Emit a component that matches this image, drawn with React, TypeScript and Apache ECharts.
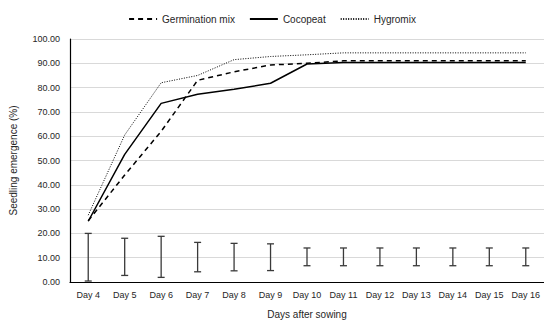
import React, { useEffect, useRef } from "react";
import * as echarts from "echarts";

const categories = ["Day 4", "Day 5", "Day 6", "Day 7", "Day 8", "Day 9", "Day 10", "Day 11", "Day 12", "Day 13", "Day 14", "Day 15", "Day 16"];
const germinationMix = [25.2, 44.0, 62.0, 83.0, 86.5, 89.3, 90.0, 91.0, 91.0, 91.0, 91.0, 91.0, 91.0];
const cocopeat = [25.0, 52.5, 73.5, 77.3, 79.3, 81.8, 89.7, 90.3, 90.3, 90.3, 90.3, 90.3, 90.3];
const hygromix = [27.5, 60.5, 82.0, 85.0, 91.5, 92.8, 93.5, 94.3, 94.3, 94.3, 94.3, 94.3, 94.3];
const errLow = [0.4, 2.7, 1.9, 4.2, 4.6, 4.7, 6.7, 6.7, 6.7, 6.7, 6.7, 6.7, 6.7];
const errHigh = [20.0, 18.0, 18.8, 16.3, 15.9, 15.7, 14.0, 14.0, 14.0, 14.0, 14.0, 14.0, 14.0];

const FONT = "Liberation Sans";

export default function App() {
  const ref = useRef<HTMLDivElement>(null);
  useEffect(() => {
    if (!ref.current) return;
    const chart = echarts.init(ref.current, null, { renderer: "svg" });
    const errData = categories.map((_, i) => [i, errLow[i], errHigh[i]]);
    chart.setOption({
      animation: false,
      textStyle: { fontFamily: FONT },
      legend: {
        top: 9,
        left: "center",
        data: ["Germination mix", "Cocopeat", "Hygromix"],
        itemWidth: 28,
        itemHeight: 8,
        itemGap: 14,
        itemStyle: { opacity: 0 },
        textStyle: { fontFamily: FONT, fontSize: 10, color: "#262626" },
      },
      grid: { left: 65, top: 39, width: 481, height: 248 },
      xAxis: {
        type: "category",
        data: categories,
        boundaryGap: true,
        axisLine: { lineStyle: { color: "#000", width: 1.2 } },
        axisTick: { show: false },
        axisLabel: { fontFamily: FONT, fontSize: 9, color: "#262626", margin: 8, interval: 0 },
        name: "Days after sowing",
        nameLocation: "middle",
        nameGap: 27,
        nameTextStyle: { fontFamily: FONT, fontSize: 10, color: "#262626" },
      },
      yAxis: {
        type: "value",
        min: 0,
        max: 100,
        interval: 10,
        axisLine: { show: true, lineStyle: { color: "#000", width: 1.2 } },
        axisTick: { show: false },
        splitLine: { lineStyle: { color: "#d9d9d9", width: 1 } },
        axisLabel: {
          fontFamily: FONT,
          fontSize: 9,
          color: "#262626",
          margin: 10,
          formatter: (v: number) => v.toFixed(2),
        },
        name: "Seedling emergence (%)",
        nameLocation: "middle",
        nameGap: 52,
        nameTextStyle: { fontFamily: FONT, fontSize: 10, color: "#262626" },
      },
      series: [
        {
          name: "Germination mix",
          type: "line",
          data: germinationMix,
          symbol: "none",
          lineStyle: { color: "#000", width: 1.5, type: [5, 4] },
          itemStyle: { color: "#000" },
        },
        {
          name: "Cocopeat",
          type: "line",
          data: cocopeat,
          symbol: "none",
          lineStyle: { color: "#000", width: 1.5, type: "solid" },
          itemStyle: { color: "#000" },
        },
        {
          name: "Hygromix",
          type: "line",
          data: hygromix,
          symbol: "none",
          lineStyle: { color: "#000", width: 1, type: [1, 1.5] },
          itemStyle: { color: "#000" },
        },
        {
          name: "errors",
          type: "custom",
          data: errData,
          encode: { x: 0, y: [1, 2] },
          renderItem: (params: any, api: any) => {
            const lo = api.coord([api.value(0), api.value(1)]);
            const hi = api.coord([api.value(0), api.value(2)]);
            const w = 3.5;
            const style = { stroke: "#3a3a3a", lineWidth: 1.3, fill: "none" };
            return {
              type: "group",
              children: [
                { type: "line", shape: { x1: lo[0], y1: lo[1], x2: hi[0], y2: hi[1] }, style },
                { type: "line", shape: { x1: lo[0] - w, y1: lo[1], x2: lo[0] + w, y2: lo[1] }, style },
                { type: "line", shape: { x1: hi[0] - w, y1: hi[1], x2: hi[0] + w, y2: hi[1] }, style },
              ],
            };
          },
          z: 3,
        },
      ],
    });
    return () => chart.dispose();
  }, []);
  return <div ref={ref} style={{ width: 544, height: 324, position: "absolute", left: 0, top: 0, background: "#fff" }} />;
}
